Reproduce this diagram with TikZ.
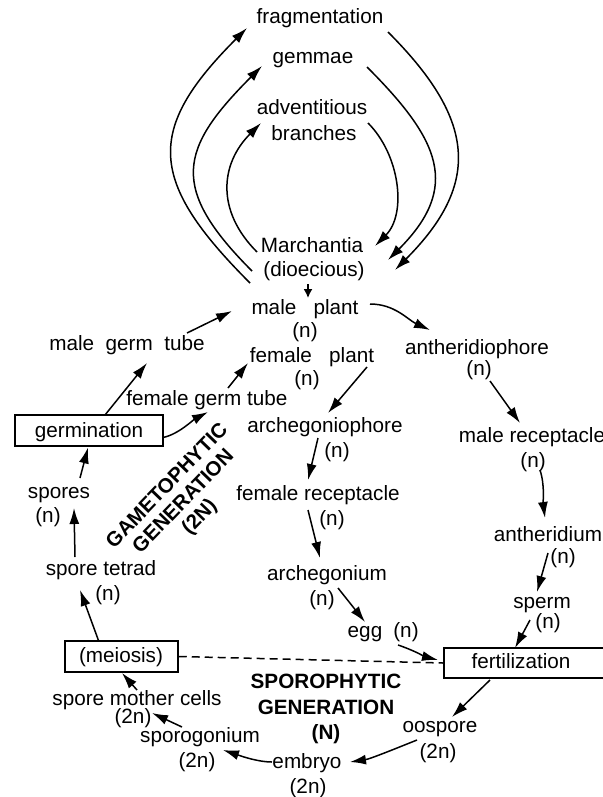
\documentclass[tikz,border=0pt]{standalone}
\usepackage{fontspec}
\setmainfont{Liberation Sans}
\usetikzlibrary{arrows.meta,calc}
\begin{document}
\begin{tikzpicture}[x=1pt,y=-1pt,
 txt/.style={inner sep=0pt, text height=14.9pt, text depth=4.3pt, font=\fontsize{20.7}{25}\selectfont},
 bld/.style={inner sep=0pt, align=center, font=\fontsize{20.7}{25.5}\selectfont\bfseries},
 bldr/.style={inner sep=0pt, align=center, font=\fontsize{20.5}{22.5}\selectfont\bfseries},
 arr/.style={line width=1.5pt, -{Latex[length=16pt,width=10pt]}},
 boxn/.style={draw, line width=1.5pt, inner sep=0pt}
]
\useasboundingbox (0,0) rectangle (602,797);
% nodes
\node[txt] (frag) at (320,18) {fragmentation};
\node[txt] (gem) at (313,58) {gemmae};
\node[txt] (adv) at (312,109) {adventitious};
\node[txt] (bra) at (314,135) {branches};
\node[txt] (mar) at (312,247) {Marchantia};
\node[txt] (dio) at (314,271) {(dioecious)};
\node[txt] (mp) at (305,309) {male\ \ \ plant};
\node[txt] (mpn) at (305,332) {(n)};
\node[txt] (fp) at (312,357) {female\ \ \ plant};
\node[txt] (fpn) at (307,380) {(n)};
\node[txt] (anph) at (477,349) {antheridiophore};
\node[txt] (anphn) at (479,370) {(n)};
\node[txt] (mrec) at (532,437) {male receptacle};
\node[txt] (mrecn) at (533,462) {(n)};
\node[txt] (anth) at (548,536) {antheridium};
\node[txt] (anthn) at (563,558) {(n)};
\node[txt] (sperm) at (542,603) {sperm};
\node[txt] (spermn) at (548,623) {(n)};
\node[boxn, minimum width=175, minimum height=30, anchor=west] (fertbox) at (443,663) {};
\node[txt] (fert) at (521,663) {fertilization};
\node[txt] (egg) at (365,632) {egg};
\node[txt] (eggn) at (406,632) {(n)};
\node[txt] (arch) at (327,575) {archegonium};
\node[txt] (archn) at (322,600) {(n)};
\node[txt] (frec) at (318,495) {female receptacle};
\node[txt] (frecn) at (332,520) {(n)};
\node[txt] (argp) at (325,427) {archegoniophore};
\node[txt] (argpn) at (337,452) {(n)};
\node[txt] (mgt) at (127,345) {male\ \ germ\ \ tube};
\node[txt] (fgt) at (207,400) {female germ tube};
\node[boxn, minimum width=148, minimum height=31] (germbox) at (89,430.5) {};
\node[txt] (germ) at (89,432) {germination};
\node[txt] (spores) at (59,493) {spores};
\node[txt] (sporesn) at (48,517) {(n)};
\node[txt] (tetrad) at (101,570) {spore tetrad};
\node[txt] (tetradn) at (108,595) {(n)};
\node[boxn, minimum width=113, minimum height=31] (meibox) at (121.5,656.5) {};
\node[txt] (mei) at (121,657) {(meiosis)};
\node[txt] (smc) at (137,700) {spore mother cells};
\node[txt] (smcn) at (133,718) {(2n)};
\node[txt] (sporog) at (200,737) {sporogonium};
\node[txt] (sporogn) at (197,762) {(2n)};
\node[txt] (embryo) at (307,763) {embryo};
\node[txt] (embryon) at (308,788) {(2n)};
\node[txt] (oosp) at (440,727) {oospore};
\node[txt] (oospn) at (438,753) {(2n)};
\node[bld] (spg) at (326,709) {SPOROPHYTIC\\GENERATION\\(N)};
\node[bldr, rotate=46] (gmg) at (184,502) {GAMETOPHYTIC\\GENERATION\\(2N)};
% top arcs (left: upward, right: downward)
\draw[arr] ($(dio)+(-64,12)$) .. controls ($(dio)+(-166,-90)$) and ($(frag)+(-175,112)$) .. ($(frag)+(-73,10)$);
\draw[arr] ($(dio)+(-62,0)$) .. controls ($(dio)+(-145,-83)$) and ($(gem)+(-134,91)$) .. ($(gem)+(-51,8)$);
\draw[arr] ($(mar)+(-55,5)$) .. controls ($(mar)+(-96,-36)$) and ($(adv)+(-92,55)$) .. ($(adv)+(-51,14)$);
\draw[arr] ($(adv)+(56,14)$) .. controls ($(adv)+(88,46)$) and ($(mar)+(95,-33)$) .. ($(mar)+(63,-1)$);
\draw[arr] ($(gem)+(54,9)$) .. controls ($(gem)+(127,82)$) and ($(mar)+(149,-60)$) .. ($(mar)+(76,13)$);
\draw[arr] ($(frag)+(68,14)$) .. controls ($(frag)+(155,101)$) and ($(dio)+(168,-88)$) .. ($(dio)+(81,-1)$);
% gametophyte
\draw[line width=1.5pt, -{Latex[length=9pt,width=9pt]}] ($(dio)+(-6,13)$) -- ($(mp)+(3,-11)$);
\draw[arr] ($(mp)+(65,-5)$) .. controls ($(mp)+(90,-5)$) and ($(anph)+(-69,-29)$) .. ($(anph)+(-47,-19)$);
\draw[arr] ($(mgt)+(60,-12)$) -- ($(mp)+(-73,2)$);
\draw[arr] ($(fgt)+(21,-12)$) -- ($(fp)+(-64,6)$);
\draw[arr] ($(germbox)+(16,-15.5)$) -- ($(mgt)+(20,18)$);
\draw[arr] ($(germbox)+(74,7)$) .. controls ($(germbox)+(89,4)$) and ($(fgt)+(-14,20)$) .. ($(fgt)+(1,12)$);
\draw[arr] ($(spores)+(21,-15)$) -- ($(germbox)+(-1,17)$);
\draw[arr] ($(tetrad)+(-26,-13)$) -- ($(spores)+(15,15)$);
\draw[arr] ($(meibox)+(-23,-16)$) -- ($(tetrad)+(-21,20)$);
\draw[arr] ($(smc)+(0,-10)$) -- ($(meibox)+(0.5,16.5)$);
\draw[arr] ($(sporog)+(-18,-10)$) -- ($(smcn)+(19,-5)$);
\draw[arr] ($(embryo)+(-35,-1)$) .. controls ($(embryo)+(-50,-1)$) and ($(sporog)+(38,18)$) .. ($(sporog)+(23,13)$);
\draw[arr] ($(oosp)+(-23,13)$) .. controls ($(oosp)+(-43,21)$) and ($(embryo)+(63,-4)$) .. ($(embryo)+(43,-1)$);
\draw[arr] ($(fert)+(-31,17)$) -- ($(oosp)+(12,-10)$);
\draw[arr] ($(sperm)+(-12,17)$) -- ($(fert)+(-6,-15)$);
\draw[arr] ($(anth)+(0,17)$) -- ($(sperm)+(-5,-11)$);
\draw[arr] ($(mrecn)+(7,8)$) .. controls ($(mrecn)+(12,23)$) and ($(anth)+(-5,-33)$) .. ($(anth)+(-3,-18)$);
\draw[arr] ($(anphn)+(11,11)$) -- ($(mrec)+(-12,-14)$);
\draw[arr] ($(fp)+(55,10)$) -- ($(argp)+(3,-14)$);
\draw[arr] ($(argp)+(-7,11)$) -- ($(frec)+(-10,-15)$);
\draw[arr] ($(frec)+(-10,15)$) -- ($(arch)+(-7,-17)$);
\draw[arr] ($(arch)+(11,13)$) -- ($(egg)+(0,-10)$);
\draw[arr] ($(eggn)+(-8,13)$) .. controls ($(eggn)+(7,18)$) and ($(fert)+(-95,-6)$) .. ($(fert)+(-83,-3)$);
\draw[line width=1.5pt, dash pattern=on 8pt off 5pt] (meibox.east) -- (fertbox.west);
\end{tikzpicture}
\end{document}
